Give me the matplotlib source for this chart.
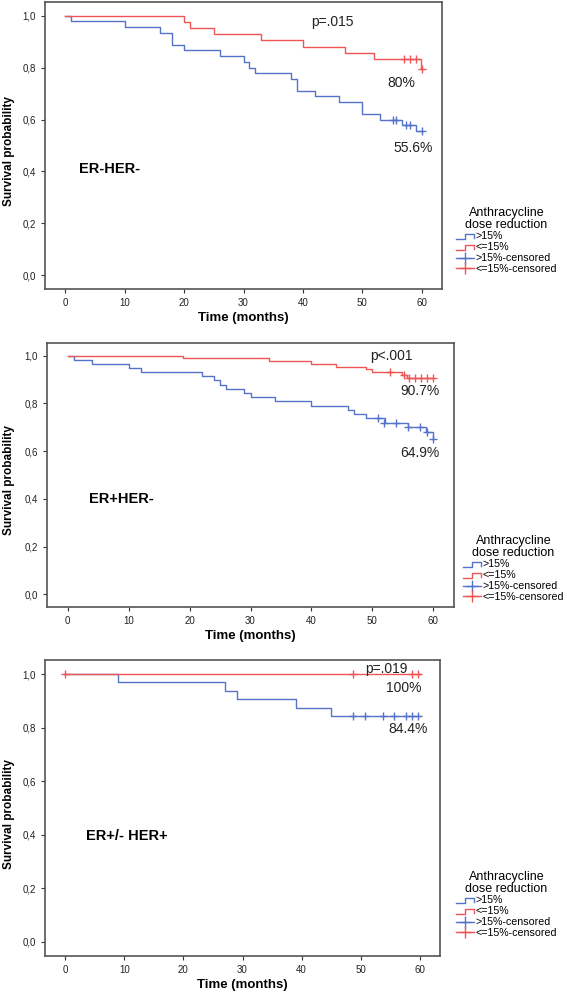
import matplotlib
matplotlib.use("Agg")
import matplotlib.pyplot as plt
from matplotlib.lines import Line2D
from matplotlib.legend_handler import HandlerBase

plt.rcParams['font.family'] = ['Liberation Sans', 'DejaVu Sans']

# ---- data ----
# panel 1: ER-HER-
p1_red_t = [0, 20, 21, 25, 33, 40, 47, 52, 59.9]
p1_red_s = [1.0, 0.976, 0.952, 0.929, 0.905, 0.881, 0.857, 0.833, 0.794]
p1_red_ct = [57, 58, 59, 60]
p1_red_cs = [0.833, 0.833, 0.833, 0.794]
p1_blue_t = [0, 1, 10, 16, 18, 20, 26, 30, 31, 32, 38, 39, 42, 46, 50, 53, 56.7, 59.1]
p1_blue_s = [1.0, 0.978, 0.956, 0.933, 0.889, 0.867, 0.844, 0.822, 0.800, 0.778,
             0.756, 0.711, 0.689, 0.667, 0.622, 0.600, 0.578, 0.556]
p1_blue_ct = [55.1, 55.7, 57.3, 58.0, 60]
p1_blue_cs = [0.600, 0.600, 0.578, 0.578, 0.556]

# panel 2: ER+HER-
p2_red_t = [0, 19, 33, 40, 44, 49, 50, 54.9, 55.7]
p2_red_s = [1.0, 0.989, 0.977, 0.966, 0.954, 0.943, 0.932, 0.920, 0.907]
p2_red_ct = [52.9, 55.2, 56, 57, 58, 59, 60]
p2_red_cs = [0.932, 0.920, 0.907, 0.907, 0.907, 0.907, 0.907]
p2_blue_t = [0, 1, 4, 10, 12, 22, 24, 25, 26, 29, 30, 34, 40, 46, 47, 49, 52,
             55.8, 58.8, 59.9]
p2_blue_s = [1.0, 0.983, 0.966, 0.948, 0.931, 0.914, 0.897, 0.879, 0.862, 0.845,
             0.828, 0.810, 0.790, 0.772, 0.754, 0.737, 0.719, 0.701, 0.680, 0.649]
p2_blue_ct = [50.9, 51.9, 53.9, 55.9, 57.9, 59.0, 60]
p2_blue_cs = [0.737, 0.719, 0.719, 0.701, 0.701, 0.680, 0.649]

# panel 3: ER+/- HER+
p3_red_t = [0]
p3_red_s = [1.0]
p3_red_ct = [0, 48.7, 58.6, 59.6]
p3_red_cs = [1.0, 1.0, 1.0, 1.0]
p3_blue_t = [0, 9, 27, 29, 39, 45]
p3_blue_s = [1.0, 0.969, 0.938, 0.906, 0.875, 0.844]
p3_blue_ct = [48.7, 50.7, 53.7, 55.7, 57.6, 58.6, 59.6]
p3_blue_cs = [0.844] * 7

groups = ["ER-HER-", "ER+HER-", "ER+/- HER+"]
pvals = ["p=.015", "p<.001", "p=.019"]
red_pct = ["80%", "90.7%", "100%"]
blue_pct = ["55.6%", "64.9%", "84.4%"]
yticks = [0.0, 0.2, 0.4, 0.6, 0.8, 1.0]
ytick_labels = ["0,0", "0,2", "0,4", "0,6", "0,8", "1,0"]
xticks = [0, 10, 20, 30, 40, 50, 60]
legend_labels = [">15%", "<=15%", ">15%-censored", "<=15%-censored"]

BLUE = "#5573c8"
RED = "#f05555"
W, H = 567, 992


class StepHandler(HandlerBase):
    def create_artists(self, legend, orig, xd, yd, w, h, fontsize, trans):
        xs = [xd, xd + 0.5 * w, xd + 0.5 * w, xd + w, xd + w]
        ys = [yd + 0.1 * h, yd + 0.1 * h, yd + 0.8 * h, yd + 0.8 * h, yd + 0.25 * h]
        return [Line2D(xs, ys, color=orig.get_color(), lw=1, transform=trans)]


def km(ax, t, s, ct, cs, color):
    tt = list(t) + [60]
    ss = list(s) + [s[-1]]
    ax.step(tt, ss, where="post", color=color, lw=1)
    ax.plot(ct, cs, ls="none", marker="+", ms=6, mew=1, color=color)


fig = plt.figure(figsize=(W / 100, H / 100), dpi=100)

# axes boxes in pixels: left, right, top, bottom
boxes = [(45, 442, 2, 289), (47, 454, 343, 607), (45, 440, 660, 956)]
legend_pos = [(456, 207), (463, 535), (456, 871)]
text_pos = [
    dict(g=(2.4, 0.41), p=(41.4, 0.975), r=(54.2, 0.74), b=(55.2, 0.49)),
    dict(g=(3.5, 0.40), p=(49.6, 1.0), r=(54.6, 0.85), b=(54.6, 0.593)),
    dict(g=(3.5, 0.395), p=(50.7, 1.02), r=(54.3, 0.95), b=(54.7, 0.796)),
]
series = [
    (p1_blue_t, p1_blue_s, p1_blue_ct, p1_blue_cs, p1_red_t, p1_red_s, p1_red_ct, p1_red_cs),
    (p2_blue_t, p2_blue_s, p2_blue_ct, p2_blue_cs, p2_red_t, p2_red_s, p2_red_ct, p2_red_cs),
    (p3_blue_t, p3_blue_s, p3_blue_ct, p3_blue_cs, p3_red_t, p3_red_s, p3_red_ct, p3_red_cs),
]

for i in range(3):
    l, r, t, b = boxes[i]
    ax = fig.add_axes([l / W, 1 - b / H, (r - l) / W, (b - t) / H])
    bt, bs, bct, bcs, rt, rs, rct, rcs = series[i]
    km(ax, bt, bs, bct, bcs, BLUE)
    km(ax, rt, rs, rct, rcs, RED)

    ax.set_xlim(-3.4, 63.4)
    ax.set_ylim(-0.053, 1.053)
    ax.set_xticks(xticks)
    ax.set_yticks(yticks)
    ax.set_yticklabels(ytick_labels)
    ax.tick_params(labelsize=7, length=3, width=0.8, color="#333333", labelcolor="#222222")
    for sp in ax.spines.values():
        sp.set_color("#555555")
        sp.set_linewidth(1.2)
    ax.set_xlabel("Time (months)", fontsize=9.5, fontweight="bold", labelpad=3)
    ax.set_ylabel("Survival probability", fontsize=8.5, fontweight="bold")
    ax.yaxis.set_label_coords((15 - l) / (r - l), 0.48)

    tp = text_pos[i]
    ax.text(*tp["g"], groups[i], fontsize=10.5, fontweight="bold", va="center")
    ax.text(*tp["p"], pvals[i], fontsize=10, va="center", color="#222222")
    ax.text(*tp["r"], red_pct[i], fontsize=10, va="center", color="#222222")
    ax.text(*tp["b"], blue_pct[i], fontsize=10, va="center", color="#222222")

    handles = [
        Line2D([], [], color=BLUE),
        Line2D([], [], color=RED),
        Line2D([], [], color=BLUE, marker="+", ms=8, mew=1, lw=1),
        Line2D([], [], color=RED, marker="+", ms=8, mew=1, lw=1),
    ]
    lx, ly = legend_pos[i]
    leg = fig.legend(handles, legend_labels, loc="upper left",
                     bbox_to_anchor=(lx / W, 1 - ly / H),
                     title="Anthracycline\ndose reduction", title_fontsize=9,
                     fontsize=7.7, frameon=False, borderpad=0, borderaxespad=0,
                     handlelength=1.7, handleheight=0.6, handletextpad=0.1,
                     labelspacing=0.08, numpoints=1, alignment="center",
                     handler_map={handles[0]: StepHandler(), handles[1]: StepHandler()})
    leg.get_title().set_linespacing(0.95)
    leg.get_title().set_multialignment("center")

fig.savefig("out.png", dpi=100)
